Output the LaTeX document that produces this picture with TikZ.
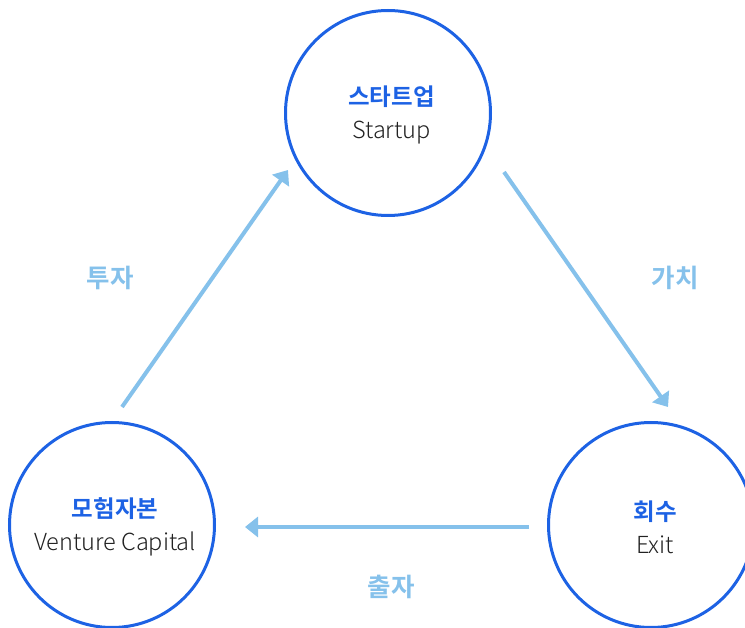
\documentclass[tikz,border=0pt]{standalone}
\usepackage{fontspec}
\setmainfont{Noto Sans CJK KR}[BoldFont={Noto Sans CJK KR Bold}]
\newfontfamily\krlight{Noto Sans CJK KR Light}
\usetikzlibrary{arrows.meta}
\definecolor{cblue}{HTML}{1D62E4}
\definecolor{ablue}{HTML}{85C1EB}
\definecolor{ctext}{HTML}{222222}
\tikzset{
  circ/.style={circle, draw=cblue, line width=3pt, minimum size=205pt, inner sep=0pt},
  inner/.style={align=center, font=\fontsize{23.5}{33}\selectfont, text=ctext, inner sep=0pt},
  flow/.style={draw=ablue, line width=4pt, -{Triangle[length=13pt,width=20pt]}},
  lbl/.style={font=\fontsize{25.5}{28}\selectfont\bfseries, text=ablue},
}
\newcommand{\ttl}[1]{{\bfseries\color{cblue}#1}}
\begin{document}
\begin{tikzpicture}[x=1pt,y=-1pt]
\useasboundingbox (0,0) rectangle (745,628);
\node[circ] (st) at (388,113) {};
\node[circ] (vc) at (112,525) {};
\node[circ] (ex) at (651,525) {};
\node[inner] (stt) at ([xshift=3.5pt,yshift=-2pt]st.center) {\ttl{스타트업}\\\krlight Startup};
\node[inner] (vct) at ([xshift=3pt,yshift=-2pt]vc.center) {\ttl{모험자본}\\\krlight Venture Capital};
\node[inner] (ext) at ([xshift=4pt,yshift=-2pt]ex.center) {\ttl{회수}\\\krlight Exit};
\coordinate (a1s) at (122,407);
\coordinate (a1e) at (288,170);
\coordinate (a2s) at (504,172);
\coordinate (a2e) at (668,407);
\coordinate (a3s) at (529,527);
\coordinate (a3e) at (245,527);
\draw[flow] (a1s) -- (a1e);
\draw[flow] (a2s) -- (a2e);
\draw[flow] (a3s) -- (a3e);
\node[lbl] (l1) at (110,278) {투자};
\node[lbl] (l2) at (675,278) {가치};
\node[lbl] (l3) at (391,587) {출자};
\end{tikzpicture}
\end{document}
